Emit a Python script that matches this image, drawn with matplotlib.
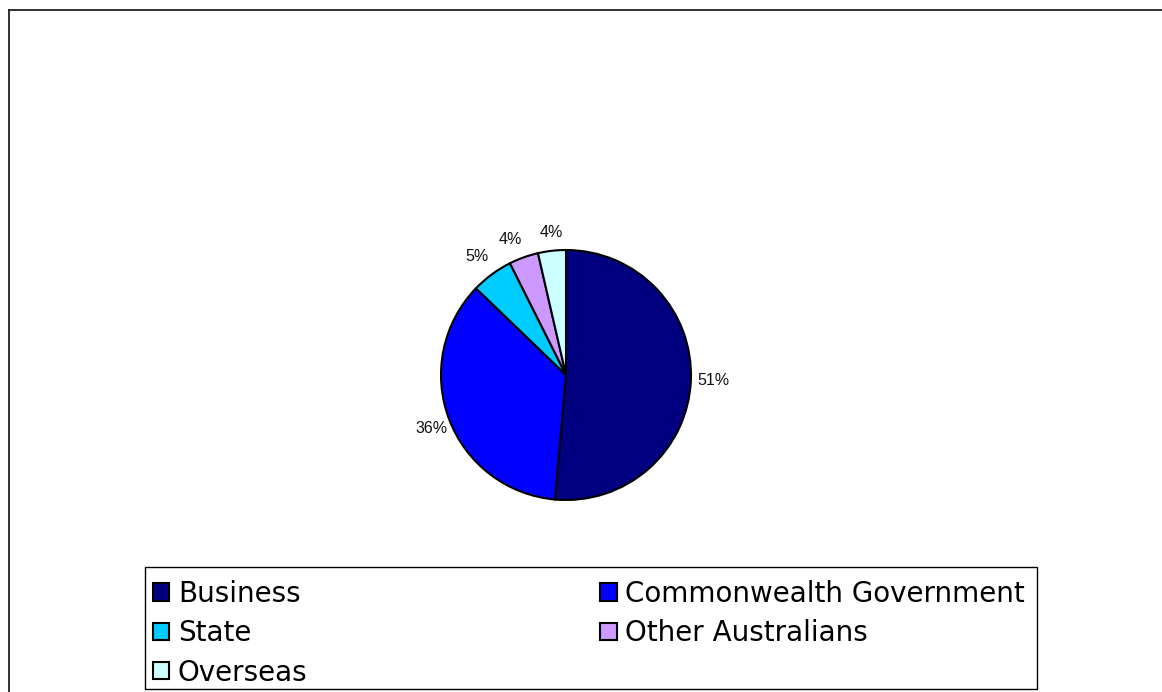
import matplotlib
matplotlib.use("Agg")
import matplotlib.pyplot as plt
from matplotlib.patches import Patch, Rectangle
from matplotlib.lines import Line2D

# Funding sources and their shares (%)
categories = ["Business", "Commonwealth Government", "State", "Other Australians", "Overseas"]
shares = [51.4, 35.8, 5.4, 3.8, 3.6]
pct_labels = ["51%", "36%", "5%", "4%", "4%"]
colors = ["#000080", "#0000FF", "#00CCFF", "#CC99FF", "#CCFFFF"]

W, H = 1162, 692
fig = plt.figure(figsize=(W / 100, H / 100), dpi=100)
fig.patch.set_facecolor("white")

# Chart-area border (left and top edges)
x0, y0 = 9 / W, 1 - 10 / H
fig.add_artist(Line2D([x0, x0], [0, y0], transform=fig.transFigure, color="#222222", lw=1.3))
fig.add_artist(Line2D([x0, 1], [y0, y0], transform=fig.transFigure, color="#222222", lw=1.3))

# Pie
cx, cy, r = 566, 375, 125
ax = fig.add_axes([(cx - r) / W, 1 - (cy + r) / H, 2 * r / W, 2 * r / H])
wedges, texts = ax.pie(
    shares,
    labels=pct_labels,
    colors=colors,
    startangle=90,
    counterclock=False,
    labeldistance=1.05,
    wedgeprops=dict(edgecolor="black", linewidth=1.5),
    textprops=dict(fontsize=11.5, family="Liberation Sans", color="#111111"),
)
for t in texts:
    tx, ty = t.get_position()
    if abs(tx) < 0.2:
        t.set_ha("center")
    if ty > 0.6:
        t.set_position((tx, ty + 0.1))
    elif tx < 0:
        t.set_position((tx + 0.04, ty - 0.06))
ax.set_aspect("equal")
ax.set_xlim(-1, 1)
ax.set_ylim(-1, 1)
ax.axis("off")

# Legend box
bx0, bx1, by0, by1 = 145, 1037, 567, 689
fig.add_artist(Rectangle((bx0 / W, 1 - by1 / H), (bx1 - bx0) / W, (by1 - by0) / H,
                         transform=fig.transFigure, facecolor="white",
                         edgecolor="black", linewidth=1.0, zorder=1))

# Legend entries, filled row by row in two columns
ncol = 2
order = [i for c in range(ncol) for i in range(c, len(categories), ncol)]
handles = [Patch(facecolor=colors[i], edgecolor="black", linewidth=1.5) for i in order]
names = [categories[i] for i in order]
top = 571.5
leg = fig.legend(
    handles, names,
    ncol=ncol,
    mode="expand",
    loc="upper left",
    bbox_to_anchor=(bx0 / W, 1 - top / H, (1033 - bx0) / W, 0),
    prop=dict(family="DejaVu Sans", size=20),
    handlelength=0.58,
    handleheight=0.58,
    handletextpad=0.3,
    labelspacing=0.41,
    borderpad=0.3,
    borderaxespad=0,
    frameon=False,
)
leg.set_zorder(2)

fig.savefig("out.png", dpi=100, facecolor="white")
